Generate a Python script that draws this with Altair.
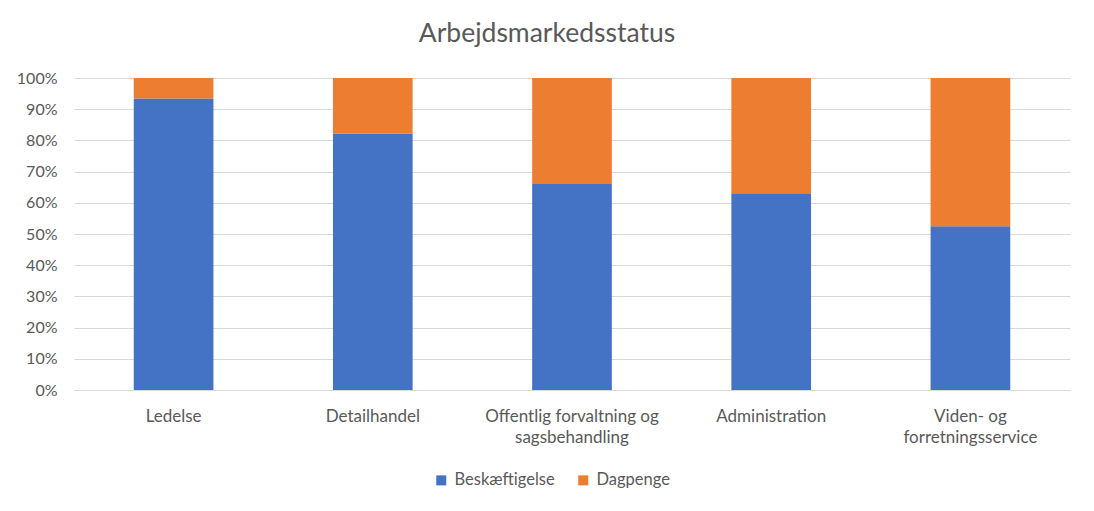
import altair as alt
import pandas as pd

categories = ["Ledelse", "Detailhandel", "Offentlig forvaltning og sagsbehandling",
              "Administration", "Viden- og forretningsservice"]
beskaeftigelse = [0.934, 0.822, 0.660, 0.631, 0.525]
dagpenge = [round(1 - v, 3) for v in beskaeftigelse]
series = ["Beskæftigelse", "Dagpenge"]
colors = ["#4472C4", "#ED7D31"]

rows = []
for c, b, d in zip(categories, beskaeftigelse, dagpenge):
    rows.append({"kategori": c, "serie": series[0], "andel": b, "rang": 0})
    rows.append({"kategori": c, "serie": series[1], "andel": d, "rang": 1})
df = pd.DataFrame(rows)

label_expr = (
    "datum.label == 'Offentlig forvaltning og sagsbehandling' ? ['Offentlig forvaltning og', 'sagsbehandling'] : "
    "datum.label == 'Viden- og forretningsservice' ? ['Viden- og', 'forretningsservice'] : datum.label"
)

font = "Lato"
txt = "#595959"

chart = alt.Chart(df).mark_bar().encode(
    x=alt.X("kategori:N", sort=categories, title=None,
            scale=alt.Scale(paddingInner=0.6, paddingOuter=0.3),
            axis=alt.Axis(labelAngle=0, labelExpr=label_expr, labelFontSize=17,
                          labelColor=txt, labelFont=font, ticks=False,
                          domainColor="#D9D9D9", domainWidth=1, labelPadding=18,
                          labelLineHeight=21, labelBaseline="top")),
    y=alt.Y("andel:Q", stack="zero", title=None,
            scale=alt.Scale(domain=[0, 1], nice=False),
            axis=alt.Axis(format=".0%", values=[i / 10 for i in range(11)],
                          labelFontSize=16, labelColor=txt, labelFont=font,
                          ticks=False, domain=False, gridColor="#D9D9D9",
                          labelPadding=17)),
    color=alt.Color("serie:N", sort=series,
                    scale=alt.Scale(domain=series, range=colors),
                    legend=alt.Legend(title=None, orient="none", direction="horizontal",
                                      legendX=359, legendY=394, symbolType="square",
                                      symbolSize=100, symbolStrokeWidth=0,
                                      labelFontSize=16.5, labelColor=txt, labelFont=font,
                                      labelOffset=5, columnPadding=20, padding=0)),
    order=alt.Order("rang:Q", sort="ascending"),
).properties(
    width=996, height=312,
    title=alt.TitleParams("Arbejdsmarkedsstatus", fontSize=26.5, font=font, color=txt,
                          fontWeight="normal", anchor="middle", dx=-25, offset=2,
                          baseline="alphabetic"),
    padding={"left": 66, "top": 70, "right": 16, "bottom": 112},
    autosize=alt.AutoSizeParams(type="none"),
).configure_view(stroke=None)

chart.save("out.html", embed_options={"renderer": "svg", "actions": False})
